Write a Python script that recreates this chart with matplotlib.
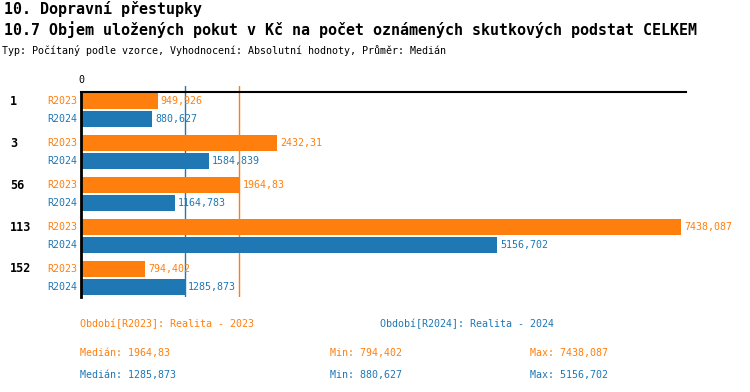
import numpy as np
import matplotlib
matplotlib.use("Agg")
import matplotlib.pyplot as plt

groups = ["1", "3", "56", "113", "152"]
series = ["R2023", "R2024"]
r2023 = [949.926, 2432.31, 1964.83, 7438.087, 794.402]
r2024 = [880.627, 1584.839, 1164.783, 5156.702, 1285.873]
legend_names = ["Období[R2023]: Realita - 2023", "Období[R2024]: Realita - 2024"]
title1 = "10. Dopravní přestupky"
title2 = "10.7 Objem uložených pokut v Kč na počet oznámených skutkových podstat CELKEM"
subtitle = "Typ: Počítaný podle vzorce, Vyhodnocení: Absolutní hodnoty, Průměr: Medián"

colors = ["#ff7f0e", "#1f77b4"]
W, H = 750, 392
FONT = "DejaVu Sans Mono"

def fmt(v):
    s = ("%.3f" % v).rstrip("0").rstrip(".")
    return s.replace(".", ",")

fig = plt.figure(figsize=(W / 100, H / 100), dpi=100)

def fx(px):
    return px / W

def fy(py):
    return 1 - py / H

# axes in pixel layout
ax_left, ax_right, ax_top, ax_bottom = 81, 686, 86, 297
ax = fig.add_axes([fx(ax_left), fy(ax_bottom), (ax_right - ax_left) / W, (ax_bottom - ax_top) / H])
ax.set_xlim(0, 7500)
ax.set_ylim(ax_bottom - ax_top, 0)
ax.axis("off")

group_pitch, bar_pitch, bar_h, first = 42, 18, 16.5, 15
data = [r2023, r2024]
for j, vals in enumerate(data):
    ys = first + np.arange(len(groups)) * group_pitch + j * bar_pitch
    ax.barh(ys, vals, height=bar_h, color=colors[j], zorder=2)
    for y, v in zip(ys, vals):
        ax.annotate(fmt(v), (v, y), xytext=(2.2, 0), textcoords="offset points",
                    ha="left", va="center", color=colors[j], fontsize=7.2,
                    family=FONT, annotation_clip=False, zorder=4)
        ax.text(-0.006 * 7500, y, series[j], ha="right", va="center",
                color=colors[j], fontsize=7.2, family=FONT, clip_on=False)

for i, g in enumerate(groups):
    y = first + i * group_pitch
    ax.text(-71 / 605 * 7500, y, g, ha="left", va="center", fontsize=8.5,
            fontweight="bold", family=FONT, clip_on=False)

# medians
meds = [np.median(r2023), np.median(r2024)]
for j, m in enumerate(meds):
    ax.plot([m, m], [0, ax_bottom - ax_top], color=colors[j], lw=1, zorder=1)

# axis lines
ax.plot([0, 7500], [6, 6], color="black", lw=1.5, zorder=3, clip_on=False)
ax.plot([0, 0], [6, ax_bottom - ax_top], color="black", lw=2, zorder=3, clip_on=False)
ax.text(0, -6, "0", ha="center", va="center", fontsize=7.2, family=FONT, clip_on=False)

# titles
fig.text(fx(4), fy(9), title1, ha="left", va="center", fontsize=10.8, fontweight="bold", family=FONT)
fig.text(fx(4), fy(30), title2, ha="left", va="center", fontsize=10.8, fontweight="bold", family=FONT)
fig.text(fx(2), fy(50), subtitle, ha="left", va="center", fontsize=7.2, family=FONT)

# legend / stats
fig.text(fx(80), fy(324), legend_names[0], ha="left", va="center", fontsize=7.2, family=FONT, color=colors[0])
fig.text(fx(380), fy(324), legend_names[1], ha="left", va="center", fontsize=7.2, family=FONT, color=colors[1])
for j, vals in enumerate(data):
    y = 353 + j * 22
    fig.text(fx(80), fy(y), "Medián: " + fmt(np.median(vals)), ha="left", va="center",
             fontsize=7.2, family=FONT, color=colors[j])
    fig.text(fx(330), fy(y), "Min: " + fmt(np.min(vals)), ha="left", va="center",
             fontsize=7.2, family=FONT, color=colors[j])
    fig.text(fx(530), fy(y), "Max: " + fmt(np.max(vals)), ha="left", va="center",
             fontsize=7.2, family=FONT, color=colors[j])

fig.savefig("out.png", dpi=100)
